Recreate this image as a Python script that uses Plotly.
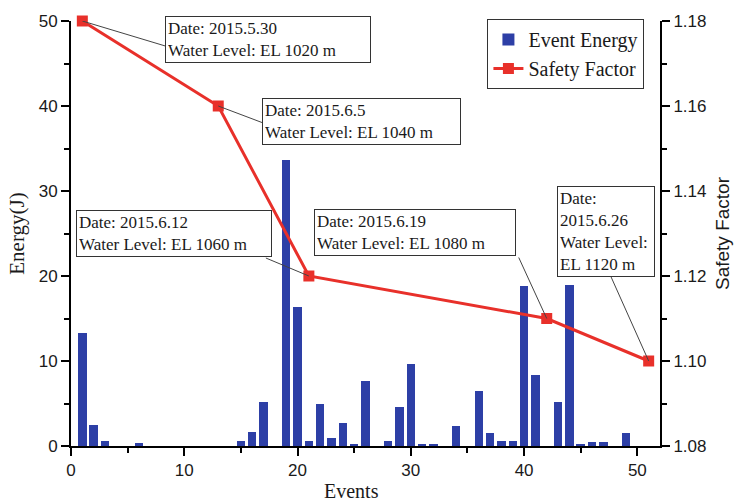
import plotly.graph_objects as go

# ---- data ----
events = list(range(1, 52))
energy = [13.3, 2.5, 0.6, 0, 0, 0.3, 0, 0, 0, 0,
          0, 0, 0, 0, 0.6, 1.6, 5.2, 0, 33.6, 16.4,
          0.6, 4.9, 0.9, 2.7, 0.2, 7.7, 0, 0.6, 4.6, 9.6,
          0.2, 0.2, 0, 2.4, 0, 6.5, 1.5, 0.6, 0.6, 18.8,
          8.3, 0, 5.2, 19.0, 0.2, 0.5, 0.5, 0, 1.5, 0, 0]
sf_events = [1, 13, 21, 42, 51]
safety = [1.18, 1.16, 1.12, 1.11, 1.10]
labels = ["Date: 2015.5.30<br>Water Level: EL 1020 m",
          "Date: 2015.6.5<br>Water Level: EL 1040 m",
          "Date: 2015.6.12<br>Water Level: EL 1060 m",
          "Date: 2015.6.19<br>Water Level: EL 1080 m",
          "Date:<br>2015.6.26<br>Water Level:<br>EL 1120 m"]
x_ticks = [0, 10, 20, 30, 40, 50]
y_ticks = [0, 10, 20, 30, 40, 50]
y2_ticks = [1.08, 1.10, 1.12, 1.14, 1.16, 1.18]

# ---- styling / placement (pixel offsets from each point) ----
box_xshift = [83, 44, -233, -233, -92]
box_yshift = [5, 8, 66, 110, 175]
box_width = [200, 193, 190, 196, 92]
conn_dx = [83, 45, -43, -28, -38]
conn_dy = [-25, -17, 18, 61, 85]

BLUE = "#2D3FA6"
RED = "#E8302A"
SERIF = "Liberation Serif, Times New Roman, serif"
SANS = "Liberation Sans, Arial, sans-serif"

fig = go.Figure()
fig.add_trace(go.Bar(x=events, y=energy, name="Event Energy",
                     marker=dict(color=BLUE, line=dict(width=0)), width=0.75))
fig.add_trace(go.Scatter(x=sf_events, y=safety, name="Safety Factor", yaxis="y2",
                         mode="lines+markers",
                         line=dict(color=RED, width=3),
                         marker=dict(symbol="square", size=11, color=RED),
                         cliponaxis=False))

for i in range(len(sf_events)):
    fig.add_shape(type="line", xref="x", yref="y2",
                  xsizemode="pixel", ysizemode="pixel",
                  xanchor=sf_events[i], yanchor=safety[i],
                  x0=0, y0=0, x1=conn_dx[i], y1=conn_dy[i],
                  line=dict(color="#444444", width=1), layer="above")
    fig.add_annotation(x=sf_events[i], y=safety[i], xref="x", yref="y2",
                       text=labels[i], showarrow=False,
                       xanchor="left", yanchor="top",
                       xshift=box_xshift[i], yshift=box_yshift[i],
                       align="left", width=box_width[i],
                       font=dict(family=SERIF, size=17, color="#1a1a1a"),
                       bgcolor="white", bordercolor="#333333",
                       borderwidth=1, borderpad=2)

fig.add_annotation(text="Events", xref="paper", yref="paper", x=0.477, y=0,
                   yshift=-45, yanchor="middle", showarrow=False,
                   font=dict(family=SERIF, size=20, color="#1a1a1a"))

axis_common = dict(showline=True, linewidth=2, linecolor="black",
                   ticks="outside", ticklen=8, tickwidth=2, tickcolor="black",
                   showgrid=False, zeroline=False,
                   tickfont=dict(family=SANS, size=17, color="#1a1a1a"))

fig.update_layout(
    width=742, height=503,
    margin=dict(l=71, r=80, t=15, b=57),
    plot_bgcolor="white", paper_bgcolor="white",
    bargap=0,
    xaxis=dict(range=[0, 52], tickvals=x_ticks,
               minor=dict(dtick=5, tick0=0, ticklen=5, tickwidth=2,
                          tickcolor="black", ticks="outside"),
               **axis_common),
    yaxis=dict(range=[0, 50], tickvals=y_ticks,
               title=dict(text="Energy(J)", font=dict(family=SERIF, size=21, color="#1a1a1a"),
                          standoff=8),
               minor=dict(dtick=5, tick0=0, ticklen=5, tickwidth=2,
                          tickcolor="black", ticks="outside"),
               **axis_common),
    yaxis2=dict(range=[1.08, 1.18], tickvals=y2_ticks, tickformat=".2f",
                overlaying="y", side="right", anchor="x",
                title=dict(text="Safety Factor", font=dict(family=SANS, size=19, color="#1a1a1a"),
                           standoff=10),
                minor=dict(dtick=0.01, tick0=1.08, ticklen=5, tickwidth=2,
                           tickcolor="black", ticks="outside"),
                **axis_common),
    legend=dict(x=0.707, y=1.005, xanchor="left", yanchor="top",
                bgcolor="white", bordercolor="#333333", borderwidth=1,
                font=dict(family=SERIF, size=20, color="#1a1a1a"),
                itemwidth=30, tracegroupgap=0),
    showlegend=True,
)

fig.write_html("out.html")
